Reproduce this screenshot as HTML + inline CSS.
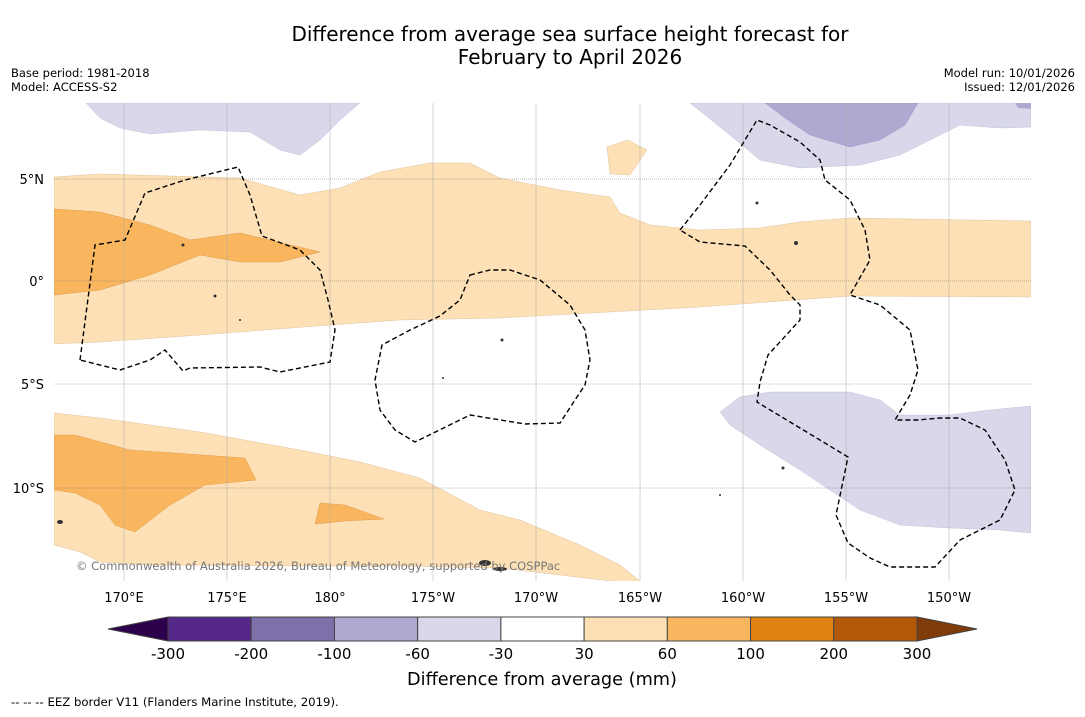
<!DOCTYPE html>
<html><head><meta charset="utf-8"><style>
html,body{margin:0;padding:0;background:#fff;}
body{width:1085px;height:713px;overflow:hidden;font-family:"DejaVu Sans",sans-serif;}
</style></head><body>
<svg id="chart" width="1085" height="713" xmlns="http://www.w3.org/2000/svg" font-family="DejaVu Sans, sans-serif">
<text x="570" y="41" font-size="20" text-anchor="middle">Difference from average sea surface height forecast for</text>
<text x="570" y="64" font-size="20" text-anchor="middle">February to April 2026</text>
<text x="11" y="77" font-size="11.5">Base period: 1981-2018</text>
<text x="11" y="91" font-size="11.5">Model: ACCESS-S2</text>
<text x="1075" y="77" font-size="11.5" text-anchor="end">Model run: 10/01/2026</text>
<text x="1075" y="91" font-size="11.5" text-anchor="end">Issued: 12/01/2026</text>
<defs><clipPath id="mapclip"><rect x="54" y="103" width="977" height="478"/></clipPath></defs>
<g clip-path="url(#mapclip)">
<rect x="54" y="103" width="977" height="478" fill="#fff"/>
<polygon fill="#fde0b5" stroke="#d8b890" stroke-width="0.4" points="54,177 100,174 240,178 300,195 340,188 380,172 430,163 470,163 500,178 560,190 610,197 620,213 650,225 700,230 760,228 800,222 850,218 1031,221 1031,297 850,296 700,307 500,318 400,320 330,325 200,335 100,342 54,344"/>
<polygon fill="#f9b65f" stroke="#d89040" stroke-width="0.4" points="54,209 100,212 150,225 190,240 240,233 320,252 280,262 240,262 200,255 150,275 100,290 54,295"/>
<polygon fill="#fde0b5" stroke="#d8b890" stroke-width="0.4" points="607,147 628,140 647,150 630,175 610,174"/>
<polygon fill="#fde0b5" stroke="#d8b890" stroke-width="0.4" points="54,413 100,418 200,432 300,450 360,462 420,478 480,510 520,520 580,545 620,565 645,585 560,575 500,568 400,566 300,566 150,565 100,562 80,552 54,545"/>
<polygon fill="#f9b65f" stroke="#d89040" stroke-width="0.4" points="54,435 75,435 130,450 245,458 256,480 205,485 170,505 135,532 115,525 100,505 75,493 54,490"/>
<polygon fill="#f9b65f" stroke="#d89040" stroke-width="0.4" points="320,503 345,505 384,519 345,521 315,524"/>
<polygon fill="#d8d8ea" stroke="#b8b8d0" stroke-width="0.4" points="86,103 360,103 340,120 320,140 300,155 280,150 250,132 200,130 150,134 120,128 100,118"/>
<polygon fill="#d8d8ea" stroke="#b8b8d0" stroke-width="0.4" points="690,103 1031,103 1031,127 1000,128 960,125 930,140 900,155 860,165 800,168 760,160 730,135 705,115"/>
<polygon fill="#afa8d0" stroke="#9890c0" stroke-width="0.4" points="765,103 918,103 905,125 880,140 850,147 810,135 785,118"/>
<polygon fill="#afa8d0" points="1015,103 1031,103 1031,109 1018,108"/>
<polygon fill="#d8d8ea" stroke="#b8b8d0" stroke-width="0.4" points="720,412 740,397 770,392 850,392 880,400 900,415 950,415 990,410 1031,406 1031,533 1000,530 950,528 900,525 860,510 830,490 800,470 760,445 730,425"/>
<g stroke="#aaa" stroke-width="0.5">
<line x1="124" y1="103" x2="124" y2="581"/><line x1="227" y1="103" x2="227" y2="581"/><line x1="330" y1="103" x2="330" y2="581"/><line x1="433" y1="103" x2="433" y2="581"/><line x1="536" y1="103" x2="536" y2="581"/><line x1="640" y1="103" x2="640" y2="581"/><line x1="743" y1="103" x2="743" y2="581"/><line x1="846" y1="103" x2="846" y2="581"/><line x1="949" y1="103" x2="949" y2="581"/>
<g stroke-dasharray="1,1" stroke="#777"><line x1="54" y1="179" x2="1031" y2="179"/><line x1="54" y1="281" x2="1031" y2="281"/><line x1="54" y1="384" x2="1031" y2="384"/><line x1="54" y1="488" x2="1031" y2="488"/></g>
</g>
<g fill="none" stroke="#000" stroke-width="1.4" stroke-dasharray="5,3">
<polyline points="80,360 95,245 125,240 145,193 185,180 238,167 250,195 262,236 300,250 320,270 328,300 335,330 330,362 280,372 260,367 190,368 183,371 165,350 150,360 120,370 80,360"/>
<polygon points="470,275 490,270 510,270 540,280 570,305 585,330 590,360 585,385 575,400 560,423 525,424 470,415 415,442 395,430 380,410 375,380 382,345 410,330 440,316 460,300"/>
<polygon points="680,230 700,205 730,165 757,120 770,125 800,142 820,160 825,180 850,200 865,230 870,260 850,295 880,305 910,330 918,370 910,395 895,420 918,420 940,418 960,418 985,430 1005,460 1015,490 1000,520 960,540 935,567 890,567 870,558 848,543 836,515 848,457 757,402 760,382 768,355 800,320 800,305 790,295 770,270 745,246 700,242"/>
</g>
<g fill="#333">
<ellipse cx="485" cy="563" rx="6" ry="3"/><ellipse cx="500" cy="569" rx="7" ry="2"/><ellipse cx="60" cy="522" rx="3" ry="2"/>
<circle cx="183" cy="245" r="1.5"/><circle cx="215" cy="296" r="1.5"/><circle cx="502" cy="340" r="1.5"/><circle cx="757" cy="203" r="1.5"/><circle cx="796" cy="243" r="2"/><circle cx="783" cy="468" r="1.5"/><circle cx="720" cy="495" r="1"/><circle cx="443" cy="378" r="1"/><circle cx="240" cy="320" r="1"/>
</g>
<text x="76" y="570" font-size="11.5" fill="#777">© Commonwealth of Australia 2026, Bureau of Meteorology, supported by COSPPac</text>
</g>
<g font-size="13" text-anchor="middle">
<text x="124" y="602">170°E</text><text x="227" y="602">175°E</text><text x="330" y="602">180°</text><text x="433" y="602">175°W</text><text x="536" y="602">170°W</text><text x="640" y="602">165°W</text><text x="743" y="602">160°W</text><text x="846" y="602">155°W</text><text x="949" y="602">150°W</text>
</g>
<g font-size="13" text-anchor="end">
<text x="44" y="184">5°N</text><text x="44" y="286">0°</text><text x="44" y="389">5°S</text><text x="44" y="493">10°S</text>
</g>
<g id="colorbar"></g>
<text x="542" y="685" font-size="17.7" text-anchor="middle">Difference from average (mm)</text>
<text x="11" y="706" font-size="11.7">--  --  -- EEZ border V11 (Flanders Marine Institute, 2019).</text>
</svg>
<script>
const cbTicks = ["-300","-200","-100","-60","-30","30","60","100","200","300"];
const cbColors = ["#542788","#7e71a9","#aea8cf","#d8d8ea","#ffffff","#fde0b5","#f9b65f","#e08214","#b35806"];
const cbExtendColors = ["#2d004b","#7f3b08"];
const ns="http://www.w3.org/2000/svg";
const g=document.getElementById('colorbar');
const x0=168,x1=917,y0=617,h=24;
const w=(x1-x0)/cbColors.length;
function xAt(i){return x0+i*w;}
cbColors.forEach((c,i)=>{
  const r=document.createElementNS(ns,'rect');
  r.setAttribute('x',xAt(i));r.setAttribute('y',y0);r.setAttribute('width',w);r.setAttribute('height',h);
  r.setAttribute('fill',c);r.setAttribute('stroke','#444');r.setAttribute('stroke-width','1');
  
  
  g.appendChild(r);
});
const tl=document.createElementNS(ns,'polygon');
tl.setAttribute('points',`${x0},${y0} ${x0},${y0+h} 108,${y0+h/2}`);
tl.setAttribute('fill',cbExtendColors[0]);tl.setAttribute('stroke','#444');


g.appendChild(tl);
const tr=document.createElementNS(ns,'polygon');
tr.setAttribute('points',`${x1},${y0} ${x1},${y0+h} 977,${y0+h/2}`);
tr.setAttribute('fill',cbExtendColors[1]);tr.setAttribute('stroke','#444');


g.appendChild(tr);
cbTicks.forEach((t,i)=>{
  const tx=document.createElementNS(ns,'text');
  tx.setAttribute('x',xAt(i));tx.setAttribute('y',659);tx.setAttribute('font-size','15');tx.setAttribute('text-anchor','middle');
  tx.textContent=t;
  
  
  g.appendChild(tx);
});
</script>
</body></html>
